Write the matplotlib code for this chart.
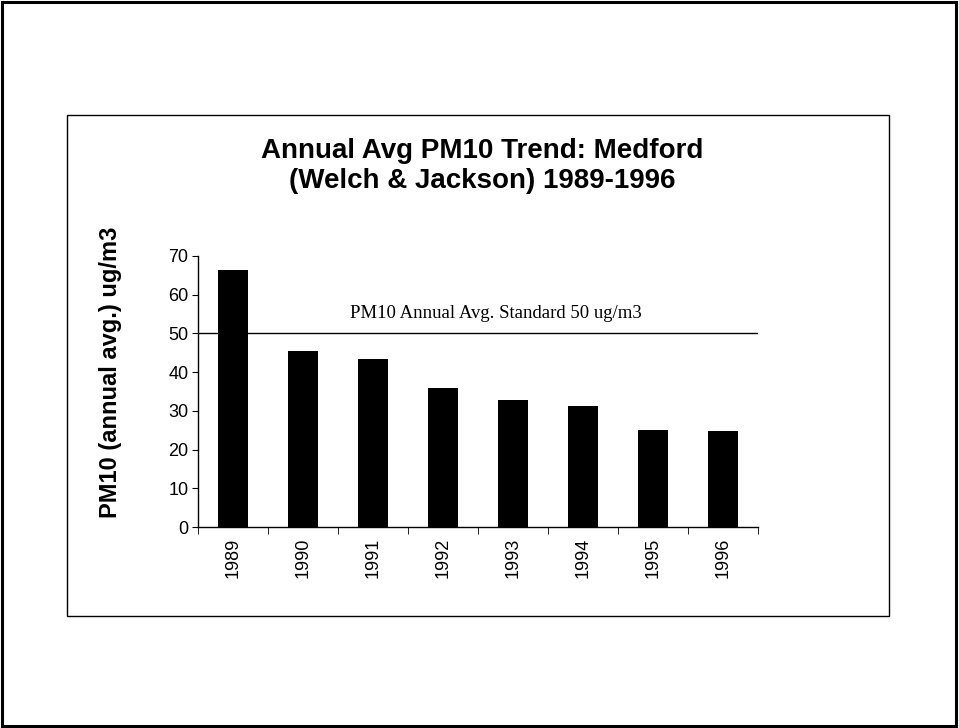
import matplotlib
matplotlib.use("Agg")
import matplotlib.pyplot as plt
from matplotlib.patches import Rectangle
import numpy as np

# === Datos ===
years = ["1989", "1990", "1991", "1992", "1993", "1994", "1995", "1996"]
pm10 = [66.5, 45.4, 43.3, 35.9, 32.9, 31.3, 25.1, 24.9]
standard = 50
standard_label = "PM10 Annual Avg. Standard 50 ug/m3"

W, H = 959, 728
fig = plt.figure(figsize=(W / 100, H / 100), dpi=100)
plt.rcParams['font.family'] = ['Liberation Sans', 'DejaVu Sans']

# marcos (pagina y grafico)
fig.patches.append(Rectangle((2 / W, 2 / H), 954 / W, 724 / H, transform=fig.transFigure,
                             fill=False, lw=2.2, ec="black"))
fig.patches.append(Rectangle((67 / W, 1 - 616 / H), (889 - 67) / W, (616 - 115) / H,
                             transform=fig.transFigure, fill=False, lw=1.0, ec="black"))

ax = fig.add_axes([198 / W, 1 - 527 / H, (758 - 198) / W, (527 - 256) / H])
x = np.arange(len(years))
ax.bar(x, pm10, width=0.42, color="black")
ax.set_xlim(-0.5, len(years) - 0.5)
ax.set_ylim(0, 70)
ax.set_yticks(range(0, 71, 10))
ax.tick_params(axis="y", labelsize=13, length=4, direction="out", pad=3)

ax.set_xticks(x)
ax.set_xticklabels(years, rotation=90, fontsize=13)
ax.tick_params(axis="x", length=0, pad=8)
ax.set_xticks(np.arange(-0.5, len(years)), minor=True)
ax.tick_params(axis="x", which="minor", length=5, direction="out")

for s in ["top", "right"]:
    ax.spines[s].set_visible(False)
ax.spines["left"].set_linewidth(1.0)
ax.spines["bottom"].set_linewidth(1.0)

# linea del estandar
ax.axhline(standard, color="black", lw=1.0)
ax.text(3.76, 54, standard_label, family="Liberation Serif",
        fontsize=13.5, ha="center", va="baseline")

fig.text(111 / W, 1 - 372 / H, "PM10 (annual avg.) ug/m3", rotation=90,
         ha="center", va="center", fontsize=17, fontweight="bold")

fig.text(482 / W, 1 - 166 / H, "Annual Avg PM10 Trend: Medford\n(Welch & Jackson) 1989-1996",
         ha="center", va="center", fontsize=20, fontweight="bold", linespacing=1.25)

fig.savefig("out.png", dpi=100)
